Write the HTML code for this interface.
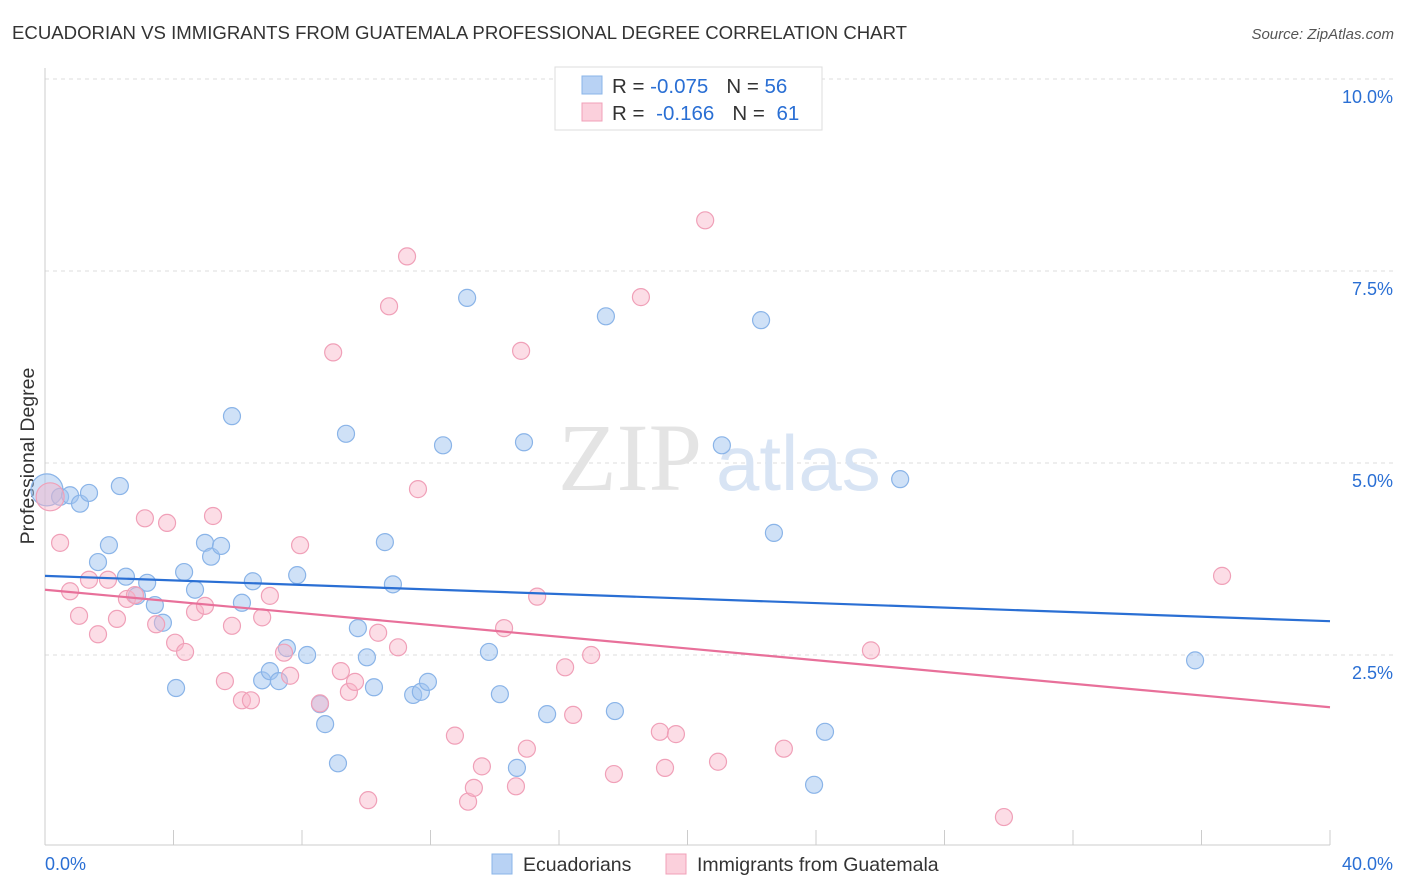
<!DOCTYPE html>
<html><head><meta charset="utf-8">
<style>
body{margin:0;background:#fff;font-family:"Liberation Sans",sans-serif;}
#wrap{position:relative;width:1406px;height:892px;overflow:hidden;}
</style></head>
<body>
<div id="wrap">
<svg id="chart" width="1406" height="892" xmlns="http://www.w3.org/2000/svg">
<text x="12" y="39" font-size="18.6" fill="#333">ECUADORIAN VS IMMIGRANTS FROM GUATEMALA PROFESSIONAL DEGREE CORRELATION CHART</text>
<text x="1394" y="39" font-size="15" fill="#555" font-style="italic" text-anchor="end">Source: ZipAtlas.com</text>
<text x="34" y="456" font-size="19.5" fill="#333" text-anchor="middle" transform="rotate(-90 34 456)">Professional Degree</text>
<g id="grid"></g>
<g id="ticks"></g>
<text x="702" y="490" font-size="96" fill="#e4e4e4" text-anchor="end" font-family="Liberation Serif">ZIP</text>
<text x="716" y="490" font-size="78" fill="#d8e4f4">atlas</text>
<g id="pts"></g>
<g id="lines"></g>
<g>
<rect x="555" y="67" width="267" height="63" fill="#fff" stroke="#ddd"/>
<rect x="582" y="76" width="20" height="18" fill="#b8d2f4" stroke="#8ab4e8"/>
<rect x="582" y="103" width="20" height="18" fill="#fbd0dc" stroke="#f0a0b8"/>
<text x="612" y="93" font-size="20.5" fill="#333">R = <tspan fill="#2a6fd4">-0.075</tspan><tspan dx="18">N = </tspan><tspan fill="#2a6fd4">56</tspan></text>
<text x="612" y="120" font-size="20.5" fill="#333">R = <tspan dx="6" fill="#2a6fd4">-0.166</tspan><tspan dx="18">N = </tspan><tspan dx="6" fill="#2a6fd4">61</tspan></text>
</g>
<g>
<rect x="492" y="854" width="20" height="20" fill="#b8d2f4" stroke="#8ab4e8"/>
<text x="523" y="871" font-size="19.5" fill="#333">Ecuadorians</text>
<rect x="666" y="854" width="20" height="20" fill="#fbd0dc" stroke="#f0a0b8"/>
<text x="697" y="871" font-size="19.5" fill="#333">Immigrants from Guatemala</text>
</g>
</svg>
</div>
<script>
const yTicks=[2.5,5.0,7.5,10.0];
const xTickLabels=["0.0%","40.0%"];
const blueX=[0.06,0.47,0.78,1.09,1.37,2.33,1.99,1.65,2.52,3.18,2.86,3.42,3.67,4.08,4.33,4.67,4.98,5.17,5.48,5.82,6.13,6.47,6.76,7.00,7.28,7.53,7.85,8.16,8.56,8.72,9.12,9.37,9.74,10.02,10.24,10.58,10.83,11.46,11.70,11.92,12.39,13.14,13.82,14.16,14.69,14.91,15.63,17.46,17.74,21.07,22.29,22.69,23.94,24.28,26.62,35.80];
const blueY=[4.65,4.56,4.58,4.47,4.61,4.70,3.93,3.71,3.52,3.44,3.27,3.15,2.92,2.07,3.58,3.35,3.96,3.78,3.92,5.61,3.18,3.46,2.17,2.29,2.16,2.59,3.54,2.50,1.86,1.60,1.09,5.38,2.85,2.47,2.08,3.97,3.42,1.98,2.02,2.15,5.23,7.15,2.54,1.99,1.03,5.27,1.73,6.91,1.77,5.23,6.86,4.09,0.81,1.50,4.79,2.43];
const pinkX=[0.16,0.47,0.78,1.06,1.37,1.65,1.96,2.24,2.55,2.80,3.11,3.46,3.80,4.05,4.36,4.67,4.98,5.23,5.60,5.82,6.13,6.41,6.76,7.00,7.44,7.63,7.94,8.56,8.97,9.21,9.46,9.65,10.06,10.37,10.71,10.99,11.27,11.61,12.76,13.17,13.35,13.60,14.29,14.66,14.82,15.00,15.32,16.19,16.44,17.00,17.71,18.55,19.14,19.30,19.64,20.55,20.95,23.00,25.71,29.85,36.64];
const pinkY=[4.56,3.96,3.33,3.01,3.48,2.77,3.48,2.97,3.23,3.28,4.28,2.90,4.22,2.66,2.54,3.06,3.14,4.31,2.16,2.88,1.91,1.91,2.99,3.27,2.53,2.23,3.93,1.87,6.44,2.29,2.02,2.15,0.61,2.79,7.04,2.60,7.69,4.66,1.45,0.59,0.77,1.05,2.85,0.79,6.46,1.28,3.26,2.34,1.72,2.50,0.95,7.16,1.50,1.03,1.47,8.16,1.11,1.28,2.56,0.39,3.53];
const blueTrend=[3.53,2.94];
const pinkTrend=[3.35,1.82];
const NS="http://www.w3.org/2000/svg";
const X=v=>45+v/40*1285;
const Y=v=>847-v/2.5*192;
function mk(t,a,p){const e=document.createElementNS(NS,t);for(const k in a)e.setAttribute(k,a[k]);p.appendChild(e);return e;}
const grid=document.getElementById('grid');
yTicks.forEach(t=>{
  const l=mk('line',{x1:45,x2:1394,y1:Y(t),y2:Y(t),stroke:'#ddd','stroke-dasharray':'4,4'},grid);
  
  
  const tx=mk('text',{x:1393,y:Y(t)+24,'font-size':18,fill:'#2a6fd4','text-anchor':'end'},grid);
  tx.textContent=t.toFixed(1)+'%';
  
  
});
const tk=document.getElementById('ticks');
mk('line',{x1:45,x2:45,y1:68,y2:845,stroke:'#ccc'},tk);
mk('line',{x1:45,x2:1330,y1:845,y2:845,stroke:'#ccc'},tk);
for(let i=0;i<=10;i++){const l=mk('line',{x1:X(i*4),x2:X(i*4),y1:830,y2:845,stroke:'#ccc'},tk);
  
  }
const xl0=mk('text',{x:45,y:870,'font-size':18,fill:'#2a6fd4'},tk);xl0.textContent=xTickLabels[0];


const xl1=mk('text',{x:1393,y:870,'font-size':18,fill:'#2a6fd4','text-anchor':'end'},tk);xl1.textContent=xTickLabels[1];


const pts=document.getElementById('pts');
function draw(xs,ys,fill,stroke,name,bigR){xs.forEach((x,i)=>{
  const r=i===0?bigR:8.5;
  const c=mk('circle',{cx:X(x),cy:Y(ys[i]),r:r,fill:fill,stroke:stroke,'stroke-width':1.2},pts);
  
  
});}
draw(blueX,blueY,'rgba(160,196,240,0.5)','#8ab4e8','ecuadorian-point',16);
draw(pinkX,pinkY,'rgba(248,180,200,0.45)','#f0a0b8','guatemala-point',14);
const ln=document.getElementById('lines');
const b=mk('line',{x1:X(0),y1:Y(blueTrend[0]),x2:X(40),y2:Y(blueTrend[1]),stroke:'#2a6fd4','stroke-width':2.2},ln);


const p=mk('line',{x1:X(0),y1:Y(pinkTrend[0]),x2:X(40),y2:Y(pinkTrend[1]),stroke:'#e8709a','stroke-width':2.2},ln);


</script>
</body></html>
